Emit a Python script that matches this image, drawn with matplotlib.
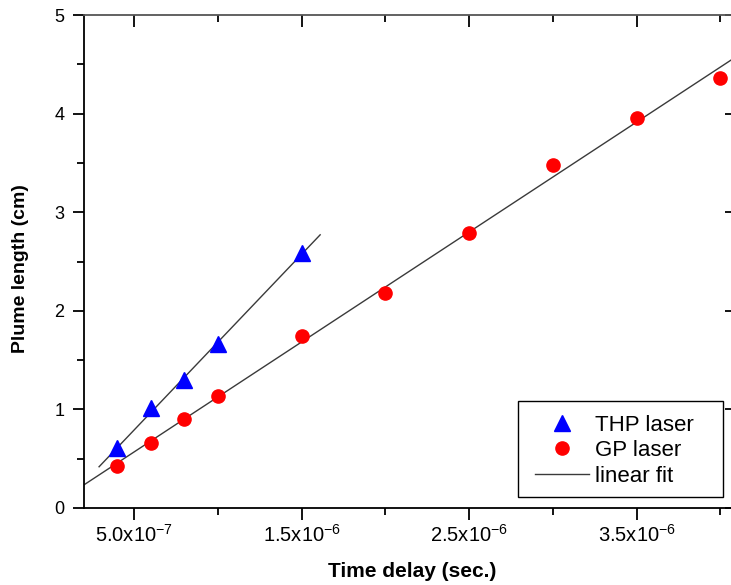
import numpy as np
import matplotlib
matplotlib.use("Agg")
import matplotlib.pyplot as plt
from matplotlib.ticker import FixedLocator, MultipleLocator
from matplotlib.patches import Rectangle

plt.rcParams['font.family'] = ['Liberation Sans', 'DejaVu Sans']
plt.rcParams['mathtext.fontset'] = 'custom'
plt.rcParams['mathtext.rm'] = 'Liberation Sans'
plt.rcParams['mathtext.default'] = 'regular'

# Data
thp_x = [4e-7, 6e-7, 8e-7, 1.0e-6, 1.5e-6]
thp_y = [0.61, 1.01, 1.30, 1.66, 2.59]
gp_x = [4e-7, 6e-7, 8e-7, 1.0e-6, 1.5e-6, 2.0e-6, 2.5e-6, 3.0e-6, 3.5e-6, 4.0e-6]
gp_y = [0.43, 0.66, 0.90, 1.14, 1.74, 2.18, 2.79, 3.48, 3.96, 4.36]
thp_fit_range = [2.9e-7, 1.61e-6]
gp_fit_range = [2.0e-7, 4.093e-6]
xticks = [5e-7, 1.5e-6, 2.5e-6, 3.5e-6]
xticklabels = ['5.0x10$^{-7}$', '1.5x10$^{-6}$', '2.5x10$^{-6}$', '3.5x10$^{-6}$']
xminor = [1e-6, 2e-6, 3e-6, 4e-6]

W, H = 731, 585
L, R, T, B = 84, 736, 15, 508
fig = plt.figure(figsize=(W / 100, H / 100), dpi=100)
ax = fig.add_axes([L / W, (H - B) / H, (R - L) / W, (B - T) / H])

# Linear fits
p_thp = np.polyfit(np.array(thp_x) * 1e6, thp_y, 1)
p_gp = np.polyfit(np.array(gp_x) * 1e6, gp_y, 1)
xt = np.array(thp_fit_range)
xg = np.array(gp_fit_range)
ax.plot(xt, np.polyval(p_thp, xt * 1e6), color='#3a3a3a', lw=1.0, zorder=2)
ax.plot(xg, np.polyval(p_gp, xg * 1e6), color='#3a3a3a', lw=1.0, zorder=2, label='linear fit')

ax.plot(thp_x, thp_y, linestyle='none', marker='^', color='#0000ff', ms=12, zorder=3, label='THP laser')
ax.plot(gp_x, gp_y, linestyle='none', marker='o', color='#ff0000', ms=9.5, zorder=3, label='GP laser')

ax.set_xlim(2e-7, 4.093e-6)
ax.set_ylim(0, 5)

ax.xaxis.set_major_locator(FixedLocator(xticks))
ax.set_xticklabels(xticklabels)
ax.xaxis.set_minor_locator(FixedLocator(xminor))
ax.yaxis.set_major_locator(MultipleLocator(1))
ax.yaxis.set_minor_locator(MultipleLocator(0.5))

ax.tick_params(axis='x', which='major', direction='out', length=8.5, width=1.3, labelsize=14.5, pad=3,
               top=True, labeltop=False)
ax.tick_params(axis='x', which='minor', direction='out', length=5, width=1.3, top=True)
ax.tick_params(axis='y', which='major', direction='out', length=8, width=1.3, labelsize=13, pad=6,
               right=True, labelright=False)
ax.tick_params(axis='y', which='minor', direction='out', length=5, width=1.3, right=False)
# top and right ticks point inward
for t in ax.xaxis.get_major_ticks() + ax.xaxis.get_minor_ticks():
    t.tick2line.set_marker(3)
for t in ax.yaxis.get_major_ticks():
    t.tick2line.set_marker(0)

for s in ['left', 'bottom', 'top', 'right']:
    ax.spines[s].set_linewidth(1.3)
ax.spines['top'].set_color('#555555')

ax.set_xlabel('Time delay (sec.)', fontsize=15, fontweight='bold')
ax.xaxis.set_label_coords((412 - L) / (R - L), -(562 - B) / (B - T))
ax.set_ylabel('Plume length (cm)', fontsize=14, fontweight='bold')
ax.yaxis.set_label_coords(-(L - 29) / (R - L), (B - 269) / (B - T))

handles, labels = ax.get_legend_handles_labels()
order = [1, 2, 0]
leg = ax.legend([handles[i] for i in order], [labels[i] for i in order],
                loc='upper left', bbox_to_anchor=((518 - L) / (R - L), (B - 398) / (B - T)),
                borderaxespad=0, fontsize=16, frameon=False,
                borderpad=0.75, handlelength=2.45, handletextpad=0.25, labelspacing=0.2)

# legend frame
box_l, box_r, box_t, box_b = 518, 723, 401, 497
ax.add_patch(Rectangle(((box_l - L) / (R - L), (B - box_b) / (B - T)),
                       (box_r - box_l) / (R - L), (box_b - box_t) / (B - T),
                       transform=ax.transAxes, fill=True, facecolor='white',
                       edgecolor='black', lw=1.0, zorder=4))
leg.set_zorder(5)

fig.savefig('out.png', dpi=100)
